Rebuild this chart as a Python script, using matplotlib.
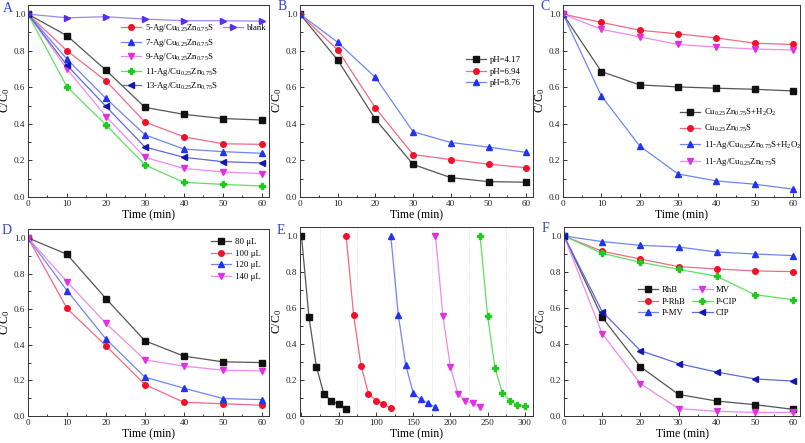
import matplotlib
matplotlib.use('Agg')
import matplotlib.pyplot as plt
from matplotlib.ticker import MultipleLocator, FormatStrFormatter

plt.rcParams['font.family'] = ['Liberation Serif', 'DejaVu Serif']
plt.rcParams['mathtext.fontset'] = 'custom'
plt.rcParams['mathtext.rm'] = 'Liberation Serif'
plt.rcParams['mathtext.default'] = 'regular'

# ---- data ----
t = [0, 10, 20, 30, 40, 50, 60]

a_black = [1.0, 0.882, 0.693, 0.490, 0.452, 0.429, 0.421]
a_5ag = [1.0, 0.800, 0.635, 0.410, 0.329, 0.291, 0.288]
a_7ag = [1.0, 0.754, 0.539, 0.340, 0.262, 0.248, 0.239]
a_9ag = [1.0, 0.700, 0.440, 0.217, 0.156, 0.137, 0.128]
a_11ag = [1.0, 0.602, 0.394, 0.175, 0.080, 0.069, 0.060]
a_13ag = [1.0, 0.720, 0.495, 0.273, 0.217, 0.193, 0.186]
a_blank = [1.0, 0.980, 0.986, 0.973, 0.964, 0.964, 0.962]

b_ph417 = [1.0, 0.749, 0.425, 0.178, 0.106, 0.084, 0.081]
b_ph694 = [1.0, 0.804, 0.487, 0.232, 0.205, 0.180, 0.160]
b_ph876 = [1.0, 0.846, 0.654, 0.357, 0.298, 0.273, 0.244]

c_cu_h2o2 = [1.0, 0.686, 0.613, 0.602, 0.595, 0.589, 0.580]
c_cu = [1.0, 0.955, 0.912, 0.892, 0.870, 0.841, 0.834]
c_ag_h2o2 = [1.0, 0.553, 0.279, 0.126, 0.088, 0.070, 0.043]
c_ag = [1.0, 0.917, 0.876, 0.834, 0.820, 0.809, 0.804]

d_80 = [1.0, 0.908, 0.659, 0.422, 0.336, 0.304, 0.300]
d_100 = [1.0, 0.604, 0.394, 0.176, 0.077, 0.069, 0.060]
d_120 = [1.0, 0.704, 0.432, 0.218, 0.156, 0.098, 0.092]
d_140 = [1.0, 0.754, 0.520, 0.315, 0.280, 0.257, 0.253]

e_t1 = [0, 10, 20, 30, 40, 50, 60]
e_t2 = [60, 70, 80, 90, 100, 110, 120]
e_t3 = [120, 130, 140, 150, 160, 170, 180]
e_t4 = [180, 190, 200, 210, 220, 230, 240]
e_t5 = [240, 250, 260, 270, 280, 290, 300]
e_run1 = [1.0, 0.550, 0.275, 0.123, 0.084, 0.064, 0.039]
e_run2 = [1.0, 0.561, 0.279, 0.125, 0.086, 0.068, 0.044]
e_run3 = [1.0, 0.563, 0.284, 0.130, 0.092, 0.072, 0.048]
e_run4 = [1.0, 0.556, 0.273, 0.125, 0.084, 0.070, 0.050]
e_run5 = [1.0, 0.556, 0.264, 0.128, 0.084, 0.062, 0.055]

f_rhb = [1.0, 0.548, 0.274, 0.120, 0.083, 0.063, 0.037]
f_prhb = [1.0, 0.915, 0.872, 0.830, 0.817, 0.806, 0.802]
f_pmv = [1.0, 0.969, 0.948, 0.939, 0.911, 0.900, 0.891]
f_mv = [1.0, 0.457, 0.180, 0.041, 0.026, 0.020, 0.020]
f_pcip = [1.0, 0.904, 0.854, 0.815, 0.776, 0.674, 0.646]
f_cip = [1.0, 0.580, 0.363, 0.291, 0.244, 0.206, 0.194]

CZS = 'Cu$_{0.25}$Zn$_{0.75}$S'

# colours: (marker, line)
BLACK = ('#111111', '#555555')
RED = ('#f0102a', '#f06a86')
BLUE = ('#2233ee', '#6f86f2')
MAG = ('#e030e0', '#ee8aee')
GREEN = ('#20c820', '#5ee05e')
NAVY = ('#1515b0', '#5a6ad8')
PURP = ('#5a2cf0', '#9d86f5')

W, H = 805, 443
fig = plt.figure(figsize=(W / 100, H / 100), dpi=100)


def make_ax(l, t_, r, b):
    return fig.add_axes([l / W, 1 - b / H, (r - l) / W, (b - t_) / H])


def series(ax, x, y, col, mk, label=None, ms=4.0):
    ax.plot(x, y, color=col[1], lw=0.9, marker=mk, ms=ms, mfc=col[0],
            mec=col[0], label=label)


def style(ax, xmax=61.8, xmaj=10, xmin_=5, xlo=0):
    ax.set_xlim(xlo, xmax)
    ax.set_ylim(0, 1.05)
    ax.xaxis.set_major_locator(MultipleLocator(xmaj))
    ax.xaxis.set_minor_locator(MultipleLocator(xmin_))
    ax.yaxis.set_major_locator(MultipleLocator(0.2))
    ax.yaxis.set_minor_locator(MultipleLocator(0.1))
    ax.yaxis.set_major_formatter(FormatStrFormatter('%.1f'))
    ax.tick_params(which='both', direction='in', labelsize=6.6, pad=2,
                   width=0.7, colors='#333333', labelcolor='#222222')
    ax.tick_params(which='major', length=3)
    ax.tick_params(which='minor', length=1.8)
    for s in ax.spines.values():
        s.set_linewidth(0.7)
        s.set_color('#333333')
    ax.set_xlabel('Time (min)', fontsize=8.5, labelpad=1)
    ax.set_ylabel('C/C$_0$', fontsize=8.5, labelpad=1)


def leg(ax, handles_labels, x, y, fs=6.3, sp=0.4, **kw):
    h, l = handles_labels
    lg = ax.legend(h, l, loc='upper left', bbox_to_anchor=(x / W, 1 - y / H),
                   bbox_transform=fig.transFigure, frameon=False, fontsize=fs,
                   borderpad=0, borderaxespad=0, handlelength=2.3,
                   handletextpad=0.4, labelspacing=sp, **kw)
    return lg


def letter(x, y, s):
    fig.text(x / W, 1 - y / H, s, color='#3344cc', fontsize=10,
             ha='center', va='center')


# ---- A ----
axA = make_ax(28, 5, 269, 197)
series(axA, t, a_black, BLACK, 's')
series(axA, t, a_5ag, RED, 'o', '5-Ag/' + CZS)
series(axA, t, a_7ag, BLUE, '^', '7-Ag/' + CZS)
series(axA, t, a_9ag, MAG, 'v', '9-Ag/' + CZS)
series(axA, t, a_11ag, GREEN, 'P', '11-Ag/' + CZS)
series(axA, t, a_13ag, NAVY, '<', '13-Ag/' + CZS)
series(axA, t, a_blank, PURP, '>', 'blank')
style(axA)
h, lab = axA.get_legend_handles_labels()
lgA = leg(axA, (h[:5], lab[:5]), 121, 22, sp=0.3)
axA.add_artist(lgA)
leg(axA, (h[5:], lab[5:]), 223, 24)
letter(8, 9, 'A')

# ---- B ----
axB = make_ax(300, 5, 533, 197)
series(axB, t, b_ph417, BLACK, 's', 'pH=4.17')
series(axB, t, b_ph694, RED, 'o', 'pH=6.94')
series(axB, t, b_ph876, BLUE, '^', 'pH=8.76')
style(axB)
leg(axB, axB.get_legend_handles_labels(), 466, 56)
letter(282, 7, 'B')

# ---- C ----
axC = make_ax(563, 5, 800, 197)
series(axC, t, c_cu_h2o2, BLACK, 's', CZS + '+H$_2$O$_2$')
series(axC, t, c_cu, RED, 'o', CZS)
series(axC, t, c_ag_h2o2, BLUE, '^', '11-Ag/' + CZS + '+H$_2$O$_2$')
series(axC, t, c_ag, MAG, 'v', '11-Ag/' + CZS)
style(axC)
leg(axC, axC.get_legend_handles_labels(), 680, 107, sp=0.55)
letter(545, 7, 'C')

# ---- D ----
axD = make_ax(28, 229, 269, 416)
series(axD, t, d_80, BLACK, 's', '80 \u03bcL')
series(axD, t, d_100, RED, 'o', '100 \u03bcL')
series(axD, t, d_120, BLUE, '^', '120 \u03bcL')
series(axD, t, d_140, MAG, 'v', '140 \u03bcL')
style(axD)
leg(axD, axD.get_legend_handles_labels(), 211, 238)
letter(7, 230, 'D')

# ---- E ----
axE = make_ax(300, 227, 533, 416)
series(axE, e_t1, e_run1, BLACK, 's')
series(axE, e_t2, e_run2, RED, 'o')
series(axE, e_t3, e_run3, BLUE, '^')
series(axE, e_t4, e_run4, MAG, 'v')
series(axE, e_t5, e_run5, GREEN, 'P')
style(axE, xmax=311, xmaj=50, xmin_=25, xlo=-2)
axE.grid(which='minor', axis='x', color='#d8d8d8', ls=':', lw=0.6)
letter(281, 230, 'E')

# ---- F ----
axF = make_ax(564, 227, 800, 416)
series(axF, t, f_rhb, BLACK, 's', 'RhB')
series(axF, t, f_prhb, RED, 'o', 'P-RhB')
series(axF, t, f_pmv, BLUE, '^', 'P-MV')
series(axF, t, f_mv, MAG, 'v', 'MV')
series(axF, t, f_pcip, GREEN, 'P', 'P-CIP')
series(axF, t, f_cip, NAVY, '<', 'CIP')
style(axF)
leg(axF, axF.get_legend_handles_labels(), 638, 286, ncol=2,
    columnspacing=0.8)
letter(545, 229, 'F')

fig.savefig('out.png', dpi=100)
